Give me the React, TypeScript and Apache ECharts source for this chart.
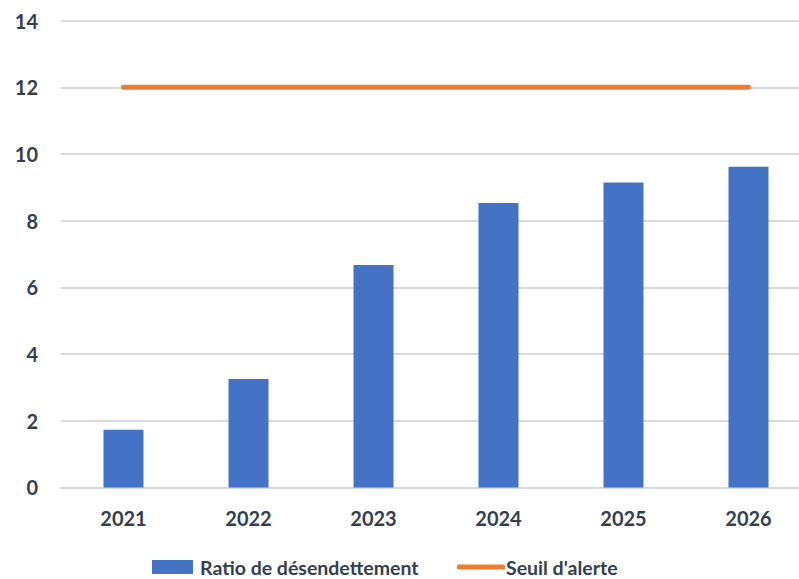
import React, { useEffect, useRef } from "react";
import * as echarts from "echarts";

const years = ["2021", "2022", "2023", "2024", "2025", "2026"];
const ratio = [1.73, 3.25, 6.67, 8.53, 9.15, 9.62];
const seuil = [12, 12, 12, 12, 12, 12];
const yTicks = { min: 0, max: 14, interval: 2 };

const TXT = "#333F50";
const FONT = "Lato";

export default function App() {
  const ref = useRef<HTMLDivElement>(null);
  useEffect(() => {
    const chart = echarts.init(ref.current!, null, { renderer: "svg" });
    chart.setOption({
      animation: false,
      grid: { left: 61, width: 750, top: 20.7, bottom: 91.6, outerBoundsMode: "none", containLabel: false },
      legend: [
        {
          data: [{ name: "Ratio de désendettement", icon: "rect" }],
          left: 152,
          top: 557,
          itemWidth: 41,
          itemHeight: 14,
          itemGap: 0,
          padding: 0,
          textStyle: { color: TXT, fontFamily: FONT, fontWeight: "bold", fontSize: 19.5, lineHeight: 18, padding: [0, 0, 0, 2] },
        },
        {
          data: [{ name: "Seuil d'alerte", icon: "roundRect" }],
          left: 457,
          top: 557,
          itemWidth: 48,
          itemHeight: 5,
          itemGap: 0,
          padding: 0,
          textStyle: { color: TXT, fontFamily: FONT, fontWeight: "bold", fontSize: 19.5, lineHeight: 18, padding: [0, 0, 0, -4] },
        },
      ],
      xAxis: {
        type: "category",
        data: years,
        axisTick: { show: false },
        axisLine: { lineStyle: { color: "#D9D9D9", width: 2 } },
        axisLabel: { color: TXT, fontFamily: FONT, fontWeight: "bold", fontSize: 20, margin: 21 },
      },
      yAxis: {
        type: "value",
        min: yTicks.min,
        max: yTicks.max,
        interval: yTicks.interval,
        axisLabel: { color: TXT, fontFamily: FONT, fontWeight: "bold", fontSize: 20, margin: 23 },
        splitLine: { lineStyle: { color: "#D9D9D9", width: 2 } },
      },
      series: [
        {
          name: "Ratio de désendettement",
          type: "bar",
          data: ratio,
          barWidth: 40,
          itemStyle: { color: "#4472C4" },
        },
        {
          name: "Seuil d'alerte",
          type: "line",
          data: seuil,
          symbol: "none",
          lineStyle: { color: "#ED7D31", width: 5, cap: "round" },
          itemStyle: { color: "#ED7D31" },
        },
      ],
    });
    return () => chart.dispose();
  }, []);
  return <div ref={ref} style={{ width: 799, height: 579, position: "absolute", left: 0, top: 0 }} />;
}
